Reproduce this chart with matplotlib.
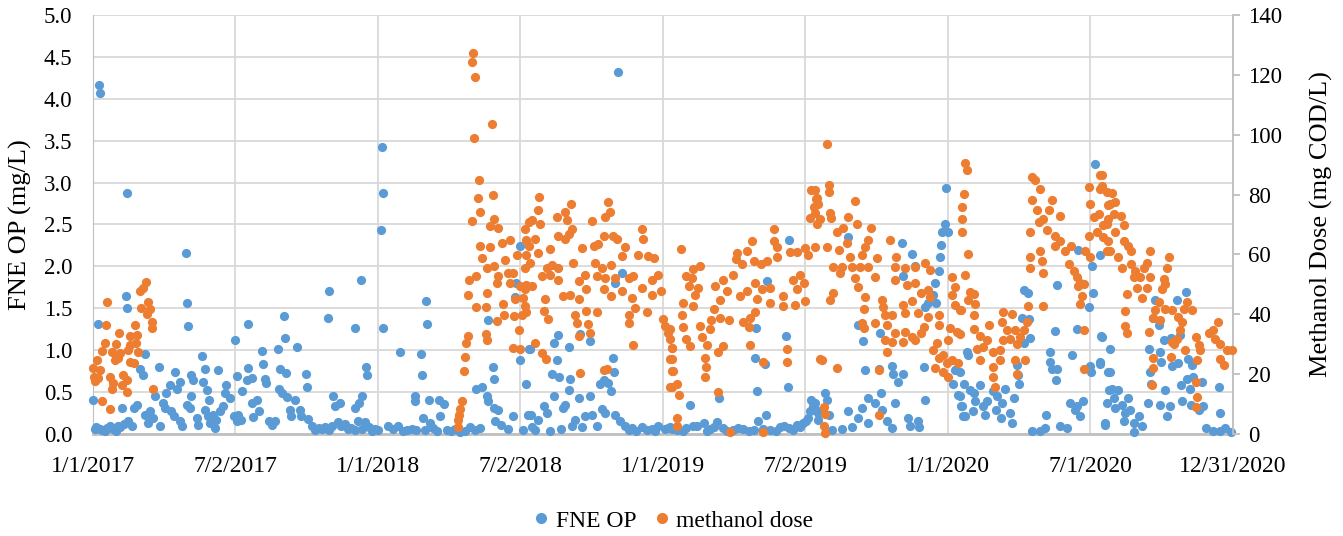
import matplotlib
matplotlib.use("Agg")
import matplotlib.pyplot as plt
import pandas as pd
from matplotlib.lines import Line2D

plt.rcParams['font.family'] = ['Liberation Serif', 'DejaVu Serif']

START = pd.Timestamp("2017-01-01")
date_labels = ["1/1/2017", "7/2/2017", "1/1/2018", "7/2/2018", "1/1/2019",
               "7/2/2019", "1/1/2020", "7/1/2020", "12/31/2020"]

# FNE OP samples: day offset from 1/1/2017 and concentration (mg/L)
fne_day = [
    8, 9, 43, 119, 42, 44, 7, 120, 122, 182, 67, 140, 84, 60, 143, 160, 105, 64, 126, 128,
    141, 184, 111, 99, 107, 146, 170, 169, 0, 94, 79, 125, 148, 175, 56, 52, 37, 90, 92, 100,
    121, 124, 144, 154, 163, 167, 66, 73, 77, 71, 86, 104, 112, 114, 133, 135, 147, 150, 158, 156,
    180, 185, 50, 45, 2, 9, 15, 22, 26, 32, 4, 12, 18, 29, 35, 40,
    370, 371, 369, 343, 302, 245, 199, 301, 336, 372, 246, 261, 237, 217, 218, 198, 239, 247, 350, 351,
    273, 274, 197, 203, 220, 221, 238, 242, 248, 259, 191, 204, 210, 212, 205, 308, 310, 316, 336, 341,
    344, 252, 254, 265, 267, 275, 186, 190, 225, 229, 233, 280, 289, 297, 306, 314, 323, 331, 340, 348,
    353, 361, 284, 293, 302, 318, 327, 335, 344, 357, 365,
    427, 428, 393, 420, 421, 412, 413, 430, 443, 449, 422, 432, 444, 378, 391, 402, 414, 436, 453, 470,
    483, 496, 384, 397, 408, 425, 441, 459, 464, 476, 489, 547, 506, 542, 540, 512, 513, 490, 498, 504,
    506, 514, 519, 515, 523, 532, 538, 555, 557, 547, 558, 551,
    672, 666, 667, 663, 654, 649, 659, 596, 591, 609, 560, 637, 594, 588, 597, 611, 610, 624, 590, 605,
    602, 622, 637, 561, 577, 581, 570, 562, 617, 630, 639, 645, 652, 656, 668, 675, 681, 690, 703, 716,
    724, 732, 741, 668, 677, 566, 585, 600, 613, 626, 686, 696, 710, 720, 736,
    892, 863, 849, 888, 848, 861, 850, 890, 802, 765, 920, 922, 918, 926, 916, 929, 862,
    748, 760, 773, 782, 790, 799, 807, 820, 833, 846, 852, 867, 880, 892, 901, 909,
    739, 755, 768, 786, 795, 812, 826, 840, 858, 875, 885, 897, 905, 913,
    1093, 1091, 1087, 1095, 1086, 1085, 1084, 1078, 1076, 1070, 1080, 1066, 967, 1036, 1049, 1053, 1038, 980, 986, 1008,
    989, 1007, 1023, 1024, 1038, 1031, 1064, 938, 940, 1009, 1027, 993, 1002, 985, 1011, 1065, 925, 929, 942, 967,
    980, 993, 1017, 1044, 1057, 1023, 1046, 1058, 947, 959, 972, 1104, 1102, 1108, 1112, 1114,
    1283, 1281, 1280, 1275, 1261, 1234, 1192, 1198, 1190, 1199, 1200, 1232, 1260, 1291, 1302, 1225, 1226, 1228, 1235, 1233,
    1254, 1277, 1278, 1290, 1300, 1119, 1121, 1111, 1115, 1123, 1136, 1128, 1130, 1110, 1113, 1117, 1127, 1140, 1145, 1153,
    1158, 1156, 1142, 1164, 1168, 1179, 1175, 1177, 1163, 1185, 1186, 1183, 1192, 1202, 1213, 1219, 1221, 1238, 1247, 1251,
    1258, 1264, 1268, 1260, 1296, 1301, 1299,
    1290, 1292, 1290, 1303, 1305, 1313, 1307, 1326, 1309, 1318, 1322, 1328, 1320, 1333, 1339, 1343, 1333, 1296, 1360,
    1388, 1400, 1358, 1365, 1371, 1380, 1392, 1352, 1367, 1368, 1354, 1382, 1389, 1403, 1407, 1409, 1401, 1394, 1405, 1355,
    1373, 1420, 1442, 1351, 1366, 1379, 1375, 1395, 1406, 1416, 1422, 1443, 1426, 1435, 1443, 1450, 1458,
]
fne_op = [
    4.16, 4.07, 2.88, 2.16, 1.65, 1.50, 1.31, 1.56, 1.29, 1.12, 0.96, 0.93, 0.80, 0.78, 0.78, 0.76, 0.74, 0.70, 0.70, 0.64,
    0.62, 0.69, 0.62, 0.58, 0.54, 0.53, 0.58, 0.49, 0.40, 0.49, 0.45, 0.45, 0.41, 0.43, 0.35, 0.31, 0.31, 0.37, 0.31, 0.27,
    0.35, 0.31, 0.29, 0.23, 0.27, 0.33, 0.23, 0.27, 0.19, 0.13, 0.09, 0.21, 0.15, 0.09, 0.19, 0.11, 0.21, 0.13, 0.17, 0.07,
    0.21, 0.15, 0.09, 0.15, 0.06, 0.06, 0.03, 0.10, 0.06, 0.09, 0.08, 0.05, 0.07, 0.04, 0.08, 0.12,
    3.42, 2.88, 2.43, 1.84, 1.71, 1.41, 1.31, 1.38, 1.26, 1.26, 1.15, 1.04, 1.01, 0.99, 0.84, 0.79, 0.78, 0.73, 0.80, 0.71,
    0.72, 0.56, 0.65, 0.67, 0.66, 0.61, 0.54, 0.49, 0.44, 0.41, 0.51, 0.37, 0.40, 0.27, 0.20, 0.45, 0.33, 0.37, 0.31, 0.37,
    0.45, 0.29, 0.21, 0.29, 0.21, 0.18, 0.23, 0.17, 0.15, 0.11, 0.15, 0.10, 0.07, 0.08, 0.10, 0.14, 0.12, 0.07, 0.15, 0.14,
    0.08, 0.06, 0.05, 0.06, 0.05, 0.09, 0.06, 0.05, 0.06, 0.04, 0.05,
    1.59, 1.31, 0.98, 0.96, 0.71, 0.45, 0.39, 0.41, 0.41, 0.36, 0.19, 0.13, 0.21, 0.09, 0.09, 0.05, 0.05, 0.07, 0.05, 0.02,
    0.08, 0.07, 0.06, 0.04, 0.06, 0.05, 0.03, 0.04, 0.06, 0.03, 0.05, 2.24, 1.36, 1.80, 1.64, 0.80, 0.66, 0.54, 0.56, 0.45,
    0.39, 0.31, 0.29, 0.15, 0.11, 0.06, 0.21, 0.60, 0.23, 0.88, 1.02, 0.05,
    4.32, 0.91, 0.74, 0.51, 0.64, 0.60, 0.61, 1.18, 1.09, 1.04, 1.02, 1.11, 0.88, 0.72, 0.68, 0.66, 0.53, 1.19, 0.45, 0.35,
    0.31, 0.43, 0.45, 0.23, 0.33, 0.25, 0.17, 0.08, 0.17, 0.21, 0.23, 0.09, 0.30, 0.25, 0.23, 0.15, 0.09, 0.07, 0.08, 0.06,
    0.10, 0.06, 0.06, 1.80, 1.92, 0.05, 0.04, 0.06, 0.10, 0.08, 0.05, 0.04, 0.05, 0.04, 0.07,
    2.32, 1.83, 1.26, 1.17, 0.91, 0.84, 0.51, 0.56, 0.43, 0.35, 0.41, 0.33, 0.27, 0.29, 0.19, 0.17, 0.23,
    0.05, 0.07, 0.10, 0.13, 0.06, 0.14, 0.07, 0.05, 0.06, 0.05, 0.15, 0.05, 0.08, 0.07, 0.11, 0.13,
    0.08, 0.04, 0.09, 0.04, 0.08, 0.03, 0.07, 0.04, 0.06, 0.03, 0.10, 0.05, 0.08, 0.15,
    2.93, 2.51, 2.41, 2.41, 2.26, 2.11, 1.94, 1.80, 1.66, 1.56, 1.56, 1.52, 2.35, 2.28, 2.15, 2.00, 1.88, 1.30, 1.11, 1.20,
    0.76, 0.77, 0.81, 0.72, 0.72, 0.62, 0.80, 0.49, 0.40, 0.49, 0.37, 0.43, 0.37, 0.31, 0.29, 0.40, 0.37, 0.25, 0.23, 0.27,
    0.19, 0.13, 0.16, 0.19, 0.16, 0.07, 0.10, 0.08, 0.05, 0.06, 0.08, 0.76, 0.60, 0.47, 0.33, 0.21,
    3.22, 1.68, 2.00, 1.52, 2.20, 1.78, 1.72, 1.68, 1.38, 1.37, 1.14, 1.23, 1.25, 1.17, 1.02, 0.98, 0.86, 0.77, 0.78, 0.64,
    0.94, 0.81, 0.74, 0.86, 0.74, 0.98, 0.94, 0.74, 0.60, 0.53, 0.58, 0.49, 0.39, 0.45, 0.33, 0.21, 0.27, 0.33, 0.39, 0.51,
    0.45, 0.29, 0.23, 0.37, 0.54, 0.43, 0.25, 0.13, 0.19, 0.70, 0.60, 0.82, 1.08, 0.03, 0.04, 0.07, 0.23, 0.09, 0.07, 0.37,
    0.29, 0.21, 0.39, 0.33, 0.13, 0.53, 0.37,
    2.14, 1.16, 0.84, 0.74, 0.54, 0.53, 0.43, 0.43, 0.31, 0.35, 0.25, 0.29, 0.15, 0.13, 0.21, 0.10, 0.02, 0.11, 1.60,
    1.60, 1.69, 1.38, 1.30, 1.12, 1.14, 1.18, 1.02, 0.98, 0.86, 0.74, 0.81, 0.85, 0.90, 0.82, 0.68, 0.66, 0.58, 0.54, 0.60,
    0.53, 0.62, 0.56, 0.37, 0.35, 0.33, 0.21, 0.39, 0.35, 0.29, 0.33, 0.25, 0.07, 0.03, 0.04, 0.07, 0.02,
]

# Methanol dose: day offset from 1/1/2017 and dose (mg COD/L)
meth_day = [
    68, 64, 60, 18, 71, 62, 73, 69, 75, 76, 17, 54, 33, 47, 56, 15, 30, 48, 55, 11,
    24, 35, 45, 58, 28, 32, 47, 52, 5, 0, 9, 7, 1, 2, 22, 26, 39, 43, 37, 24,
    43, 77, 11, 22,
    487, 485, 489, 511, 488, 494, 512, 493, 495, 485, 513, 509, 519, 558, 496, 509, 524, 534, 528, 555,
    555, 498, 504, 513, 543, 491, 481, 519, 517, 532, 538, 534, 547, 555, 541, 551, 480, 505, 491, 503,
    525, 526, 539, 549, 517, 546, 503, 505, 480, 478, 477, 475, 538, 547, 472, 470, 469, 468, 467,
    571, 570, 562, 572, 553, 612, 660, 604, 594, 607, 656, 662, 639, 613, 596, 604, 609, 654, 666, 671,
    566, 558, 570, 585, 626, 641, 647, 681, 677, 703, 705, 698, 711, 718, 553, 560, 581, 588, 596, 615,
    643, 652, 664, 575, 585, 596, 630, 622, 645, 656, 669, 686, 692, 703, 716, 724, 562, 553, 602, 611,
    622, 632, 654, 664, 677, 690, 716, 728, 579, 553, 554, 577, 583, 617, 620, 632, 634, 645, 637, 622,
    694, 709, 686, 687, 566, 575, 580, 692, 624, 658, 654, 730, 733, 737, 739, 741, 741, 741, 741,
    920, 926, 923, 918, 927, 872, 844, 872, 876, 837, 825, 824, 831, 846, 855, 863, 876, 893, 901, 912,
    916, 925, 753, 777, 769, 760, 767, 763, 775, 771, 756, 769, 754, 807, 820, 797, 812, 803, 829, 837,
    848, 857, 867, 850, 867, 884, 897, 901, 910, 905, 912, 884, 899, 795, 803, 814, 792, 833, 840, 848,
    842, 739, 756, 777, 790, 780, 786, 807, 801, 760, 765, 741, 739, 743, 748, 784, 785, 784, 841, 889,
    889, 858, 801, 750, 739, 748, 748, 816, 858, 931,
    940, 942, 942, 925, 927, 929, 925, 931, 944, 945, 976, 967, 978, 961, 953, 997, 993, 989, 966, 940,
    955, 1021, 1029, 1004, 985, 970, 948, 959, 957, 972, 982, 993, 1002, 976, 980, 1027, 1040, 1053, 1066, 1072,
    1027, 1042, 1053, 1070, 1061, 1072, 1100, 1104, 948, 944, 989, 987, 1010, 1012, 1038, 1049, 1014, 1023, 1040, 1057,
    1070, 1083, 1100, 1104, 1112, 985, 1002, 987, 1017, 1027, 1040, 1053, 1064, 1061, 1049, 1083, 1023, 1038, 1014, 1017,
    1098, 1106, 1095, 1081, 1076, 1083, 1089, 1094, 1100, 1108, 1078, 1089, 1095, 933, 953, 1006, 1006, 936, 938, 936,
    938,
    1117, 1119, 1115, 1113, 1113, 1113, 1121, 1117, 1128, 1121, 1111, 1128, 1111, 1128, 1130, 1123, 1136, 1147, 1145, 1132,
    1140, 1136, 1153, 1162, 1153, 1153, 1155, 1164, 1166, 1177, 1170, 1175, 1166, 1181, 1187, 1192, 1196, 1183, 1162, 1181,
    1183, 1194, 1202, 1207, 1213, 1202, 1209, 1228, 1224, 1239, 1217, 1211, 1222, 1200, 1232, 1239, 1232, 1245, 1252, 1213,
    1215, 1200, 1200, 1217, 1250, 1256, 1260, 1264, 1269, 1262, 1266, 1264, 1198, 1217, 1275, 1277, 1292, 1290, 1298, 1282,
    1288, 1294, 1286, 1275, 1300, 1300, 1300, 1298, 1271, 1277, 1269, 1269,
    1290, 1292, 1305, 1309, 1303, 1307, 1316, 1320, 1298, 1309, 1294, 1303, 1320, 1326, 1330, 1313, 1318, 1330, 1333, 1337,
    1343, 1346, 1350, 1354, 1354, 1350, 1341, 1335, 1324, 1322, 1322, 1324, 1378, 1375, 1371, 1373, 1369, 1365, 1373, 1360,
    1367, 1358, 1352, 1382, 1390, 1397, 1401, 1407, 1395, 1392, 1388, 1382, 1384, 1399, 1380, 1358, 1358, 1356, 1412, 1416,
    1418, 1414, 1429, 1435, 1441, 1437, 1443, 1452, 1459, 1443, 1448, 1412, 1414, 1412,
]
meth_dose = [
    50.9, 48.7, 47.7, 44.2, 44.0, 42.1, 41.6, 40.0, 37.5, 35.3, 36.3, 36.3, 33.9, 32.8, 33.1, 30.3, 30.0, 29.8, 30.3, 27.8,
    27.5, 27.0, 28.1, 27.5, 24.7, 25.3, 24.2, 23.6, 24.7, 22.0, 21.5, 18.7, 19.2, 17.6, 19.2, 17.0, 19.8, 18.1, 16.4, 15.0,
    13.9, 15.0, 11.1, 8.5,
    127.2, 124.4, 119.4, 103.6, 98.8, 85.0, 79.7, 78.9, 74.1, 71.3, 71.9, 69.4, 68.7, 70.9, 62.8, 62.4, 63.8, 64.9, 58.3, 64.9,
    59.9, 58.9, 55.5, 56.3, 59.9, 52.9, 51.4, 52.8, 50.5, 53.8, 53.8, 50.5, 49.4, 49.9, 45.0, 45.5, 46.6, 47.1, 42.3, 42.5,
    43.4, 39.9, 39.3, 39.9, 37.6, 34.7, 33.3, 31.5, 32.7, 30.4, 25.8, 20.9, 28.8, 28.3, 11.1, 8.5, 6.3, 4.6, 2.4,
    79.3, 74.9, 71.5, 70.3, 68.6, 76.9, 77.6, 74.2, 72.5, 71.4, 72.5, 74.2, 71.2, 68.4, 66.2, 65.0, 66.8, 66.2, 66.2, 65.0,
    65.0, 62.9, 60.6, 61.9, 62.3, 62.9, 63.4, 62.6, 59.5, 68.4, 65.0, 59.7, 59.5, 58.9, 55.5, 57.2, 55.5, 56.6, 55.5, 57.2,
    57.2, 55.5, 56.6, 52.7, 53.2, 51.6, 53.2, 51.0, 52.7, 52.2, 52.2, 52.2, 52.7, 48.9, 51.6, 53.2, 49.4, 48.3, 46.1, 46.6,
    45.0, 48.3, 48.3, 46.1, 47.7, 45.5, 46.6, 47.7, 45.0, 42.8, 40.6, 41.1, 38.3, 39.9, 37.2, 41.1, 36.6, 40.8, 33.7, 32.8,
    42.2, 40.8, 39.9, 37.2, 30.5, 27.2, 24.9, 29.8, 20.5, 21.6, 21.4, 38.4, 36.1, 33.9, 31.7, 28.9, 25.0, 21.1, 15.6,
    81.5, 78.4, 76.0, 72.1, 70.3, 68.4, 64.6, 64.6, 62.4, 61.2, 60.5, 58.6, 56.9, 57.9, 56.9, 57.7, 59.1, 60.8, 60.8, 62.0,
    59.7, 62.6, 61.9, 56.1, 55.0, 52.7, 52.2, 49.4, 48.9, 46.6, 43.9, 42.8, 39.6, 51.6, 53.2, 49.6, 47.7, 44.9, 46.1, 47.7,
    50.5, 48.3, 48.9, 45.0, 43.9, 46.1, 51.6, 48.3, 50.5, 53.2, 44.5, 42.8, 43.0, 41.7, 38.9, 38.2, 38.2, 37.5, 35.6, 40.8,
    38.9, 35.0, 35.6, 36.1, 35.0, 32.3, 29.7, 29.5, 27.5, 31.7, 29.5, 28.9, 25.0, 20.9, 16.7, 25.5, 22.3, 19.2, 29.7, 28.5,
    24.0, 24.2, 13.9, 13.0, 15.6, 5.4, 2.6, 0.8, 0.8, 25.0,
    96.8, 83.2, 81.0, 81.4, 78.9, 76.7, 73.9, 71.7, 73.9, 72.2, 77.9, 72.6, 70.3, 68.7, 67.6, 68.7, 64.8, 62.6, 63.7, 62.6,
    61.5, 64.8, 59.3, 58.7, 59.8, 59.3, 55.9, 55.9, 53.7, 55.9, 55.9, 55.9, 52.6, 52.0, 49.2, 55.9, 55.3, 55.9, 57.0, 54.8,
    51.5, 49.8, 50.4, 48.2, 47.1, 45.9, 52.6, 49.2, 47.1, 44.8, 45.9, 41.9, 44.8, 42.6, 43.2, 44.3, 39.8, 39.6, 40.4, 40.4,
    39.2, 39.8, 46.5, 43.2, 41.4, 37.0, 37.0, 35.3, 36.4, 33.6, 34.0, 31.4, 35.9, 33.6, 32.5, 36.4, 30.9, 30.9, 31.4, 27.5,
    35.3, 34.2, 31.4, 30.3, 28.0, 25.3, 26.4, 23.6, 24.7, 23.6, 21.9, 20.8, 19.1, 24.7, 21.9, 21.4, 6.2, 8.9, 6.7, 2.8,
    0.3,
    90.4, 88.1, 80.3, 75.9, 72.0, 67.5, 60.0, 53.0, 46.9, 44.7, 41.3, 39.6, 33.5, 35.2, 43.6, 47.5, 32.9, 36.3, 31.3, 28.5,
    29.1, 24.6, 27.4, 27.9, 22.3, 19.0, 15.7, 37.4, 40.8, 40.2, 34.6, 31.8, 31.3, 34.6, 32.4, 34.6, 37.4, 30.2, 24.6, 24.6,
    20.1, 24.6, 85.9, 84.8, 82.0, 78.1, 74.7, 78.1, 74.7, 73.0, 71.9, 70.8, 68.0, 67.4, 66.3, 64.6, 62.9, 61.2, 62.9, 61.2,
    57.9, 59.0, 55.6, 53.9, 56.7, 54.5, 52.3, 50.6, 50.0, 49.5, 46.1, 43.3, 42.7, 42.9, 82.6, 77.0, 86.4, 82.0, 80.9, 72.5,
    73.6, 69.7, 67.4, 66.3, 76.4, 72.0, 64.6, 61.2, 61.2, 59.0, 34.6, 21.6,
    86.4, 82.9, 80.6, 77.5, 77.0, 73.6, 73.0, 69.7, 70.3, 67.4, 65.8, 61.2, 64.6, 62.9, 61.2, 59.0, 55.6, 56.7, 52.3, 48.9,
    45.5, 55.6, 57.3, 61.2, 52.3, 48.9, 52.3, 54.5, 46.8, 41.2, 36.2, 33.8, 59.0, 55.6, 51.7, 50.1, 48.4, 44.0, 41.8, 41.5,
    38.0, 38.6, 34.1, 41.5, 39.2, 41.8, 44.0, 41.5, 37.5, 34.7, 31.9, 30.8, 30.2, 28.0, 25.8, 25.3, 21.9, 16.3, 32.5, 29.7,
    28.0, 24.7, 33.6, 34.7, 37.5, 31.9, 30.2, 28.0, 28.0, 25.2, 23.0, 17.4, 12.4, 9.0,
]

BLUE = "#5B9BD5"
ORANGE = "#ED7D31"
GRID = "#d9d9d9"
AXIS = "#bfbfbf"

fig = plt.figure(figsize=(13.43, 5.36), dpi=100)
ax = fig.add_axes([93 / 1343, 1 - 434 / 536, (1233 - 93) / 1343, (434 - 15) / 536])
ax2 = ax.twinx()

tick_days = [(pd.to_datetime(t, format="%m/%d/%Y") - START).days for t in date_labels]
total_days = tick_days[-1]

ax.set_xlim(0, total_days)
ax.set_ylim(0, 5)
ax2.set_ylim(0, 140)

ax.set_xticks(tick_days)
ax.set_xticklabels(date_labels)
ax.set_yticks([i * 0.5 for i in range(11)])
ax.set_yticklabels([f"{i * 0.5:.1f}" for i in range(11)])
ax2.set_yticks(range(0, 141, 20))

ax.grid(True, color=GRID, linewidth=1.3)
ax.set_axisbelow(True)

for side in ("top", "right"):
    ax.spines[side].set_visible(False)
ax.spines["left"].set_color(AXIS)
ax.spines["bottom"].set_color(AXIS)
ax.spines["bottom"].set_linewidth(2.0)
for side in ("top", "left", "bottom"):
    ax2.spines[side].set_visible(False)
ax2.spines["right"].set_color(AXIS)
ax2.spines["right"].set_linewidth(1.3)

ax.tick_params(axis="y", length=0, pad=15, labelsize=16.5)
ax.tick_params(axis="x", length=0, pad=16, labelsize=17)
ax2.tick_params(axis="y", length=5, width=1.3, color=AXIS, direction="out", pad=6, labelsize=16.5)

ax.scatter(fne_day, fne_op, s=44, color=BLUE, linewidths=0, zorder=3, clip_on=False)
ax2.scatter(meth_day, meth_dose, s=44, color=ORANGE, linewidths=0, zorder=3, clip_on=False)

ax.set_ylabel("FNE OP (mg/L)", fontsize=19, labelpad=8)
ax2.set_ylabel("Methanol Dose (mg COD/L)", fontsize=19, labelpad=20)

handles = [
    Line2D([], [], marker="o", linestyle="none", markersize=8, color=BLUE, markeredgewidth=0),
    Line2D([], [], marker="o", linestyle="none", markersize=8, color=ORANGE, markeredgewidth=0),
]
fig.legend(handles, ["FNE OP", "methanol dose"], loc="center", bbox_to_anchor=(0.5, 0.028),
           ncol=2, frameon=False, fontsize=17, handletextpad=0.1, columnspacing=0.6,
           handlelength=1.0)

fig.savefig("out.png", dpi=100)
